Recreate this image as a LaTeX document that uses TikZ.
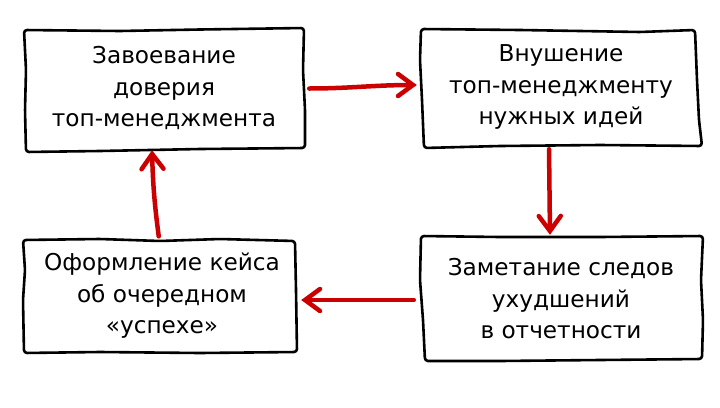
\documentclass[tikz,border=0pt]{standalone}
\usepackage{fontspec}
\setmainfont{DejaVu Sans}
\usetikzlibrary{arrows.meta,calc}
\definecolor{arrowred}{RGB}{204,0,0}
\begin{document}
\begin{tikzpicture}[x=1pt,y=-1pt,
  boxtext/.style={draw=none,inner sep=0pt,align=center,font=\fontsize{23.2}{31.5}\selectfont},
  outline/.style={line width=2.6pt,rounded corners=3pt,line join=round},
  flow/.style={draw=arrowred,line width=4.5pt,line cap=round,
    -{Straight Barb[length=15pt,width=22pt,line cap=round]}}]
\useasboundingbox (0,0) rectangle (720,407);
\fill[white] (0,0) rectangle (720,407);
\node[boxtext,minimum width=280pt,minimum height=122pt] (a) at (164,88) {Завоевание\\доверия\\топ-менеджмента};
\node[boxtext,minimum width=282pt,minimum height=120pt] (b) at (561,87) {Внушение\\топ-менеджменту\\нужных идей};
\node[boxtext,minimum width=282pt,minimum height=128pt] (c) at (561,299) {Заметание следов\\ухудшений\\в отчетности};
\node[boxtext,minimum width=276pt,minimum height=115pt] (d) at (162,296) {Оформление кейса\\об очередном\\«успехе»};
\draw[outline] (24,30) -- (120,31) -- (200,29.5) -- (304,28) -- (303,70) -- (305,110) -- (305,148) -- (200,149) -- (100,151) -- (26,152) -- (25,110) -- (26,70) -- cycle;
\draw[outline] (421,29) -- (520,30) -- (640,32) -- (695,30) -- (697,80) -- (699,120) -- (702,146) -- (600,145) -- (500,146) -- (424,148) -- (422,100) -- (420,60) -- cycle;
\draw[outline] (421,236) -- (500,237) -- (600,237) -- (703,236) -- (701,280) -- (703,320) -- (702,359) -- (600,360) -- (500,361) -- (425,361) -- (423,320) -- (420,280) -- cycle;
\draw[outline] (23,240) -- (100,239) -- (160,241) -- (220,239) -- (295,241) -- (296,290) -- (297,352) -- (200,353) -- (100,352) -- (24,353) -- (23,300) -- (25,270) -- cycle;
\draw[flow,shorten <=5pt,shorten >=3pt] ([yshift=-0.5pt]a.east) to[out=0,in=180] ([yshift=2pt]b.west);
\draw[flow,shorten <=2pt] ([xshift=-12pt]b.south) -- ([xshift=-11pt]c.north);
\draw[flow,shorten <=6pt,shorten >=1pt] ([yshift=-1pt]c.west) -- ([yshift=-4pt]d.east);
\draw[flow,shorten <=2pt,shorten >=1pt] ([xshift=-3pt]d.north) to[bend left=3] ([xshift=-12pt]a.south);
\end{tikzpicture}
\end{document}
